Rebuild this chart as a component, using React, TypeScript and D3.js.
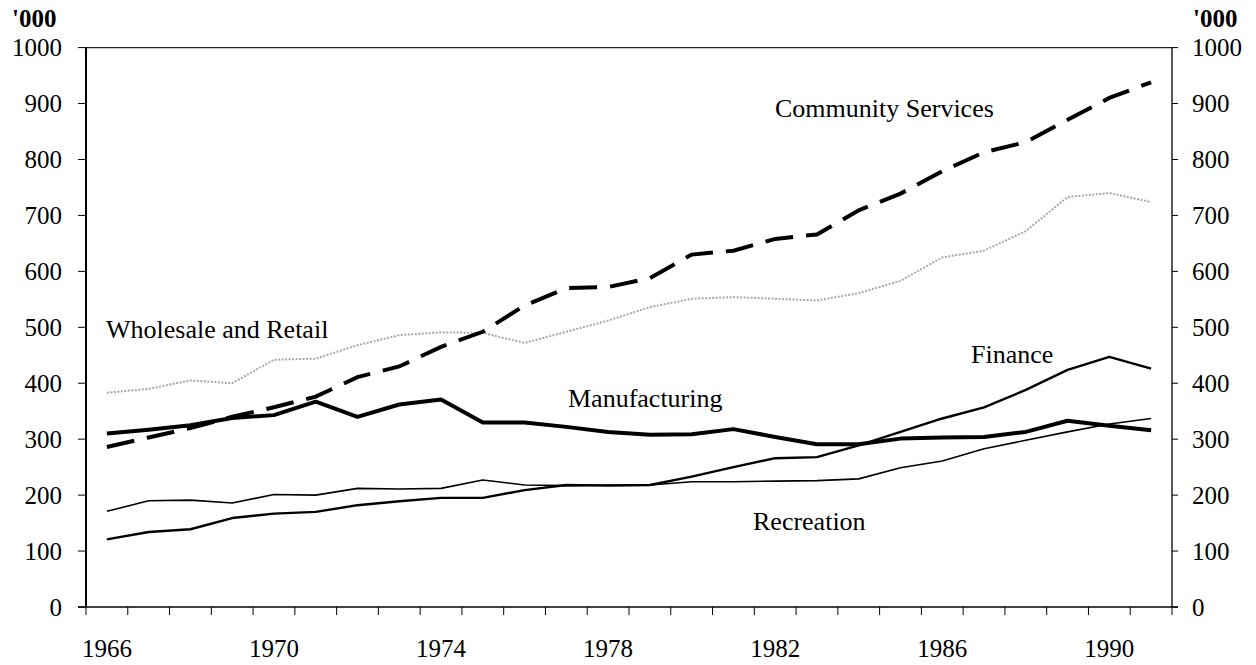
import React from "react";
import * as d3 from "d3";

// employment by industry, thousands
const years = d3.range(1966, 1992);
const xLabels = [1966, 1970, 1974, 1978, 1982, 1986, 1990];
const yTicks = [0, 100, 200, 300, 400, 500, 600, 700, 800, 900, 1000];

const communityServices = [286, 303, 320, 340, 357, 376, 411, 430, 465, 492, 539, 570, 572, 588, 630, 637, 658, 666, 709, 739, 779, 813, 831, 871, 910, 938];
const wholesaleRetail = [383, 390, 405, 400, 442, 444, 468, 486, 491, 490, 472, 492, 512, 536, 551, 554, 551, 548, 561, 583, 625, 637, 672, 733, 740, 724];
const manufacturing = [310, 317, 325, 338, 343, 367, 340, 362, 371, 330, 330, 322, 313, 308, 309, 318, 304, 291, 291, 301, 303, 304, 313, 333, 324, 316];
const finance = [121, 134, 139, 159, 167, 170, 182, 189, 195, 195, 209, 218, 217, 218, 233, 250, 266, 268, 289, 313, 337, 357, 388, 424, 447, 426];
const recreation = [171, 190, 191, 186, 201, 200, 212, 211, 212, 227, 218, 217, 218, 218, 224, 224, 225, 226, 229, 249, 261, 283, 298, 313, 327, 337];

const width = 1256;
const height = 665;
const margin = { top: 47.6, right: 84, bottom: 58, left: 86 };
const font = "'Liberation Serif', 'Times New Roman', serif";

function App() {
  const x = d3
    .scaleBand<number>()
    .domain(years)
    .range([margin.left, width - margin.right])
    .padding(0);
  const y = d3
    .scaleLinear()
    .domain([0, 1000])
    .range([height - margin.bottom, margin.top]);

  const cx = (yr: number) => (x(yr) as number) + x.bandwidth() / 2;
  const line = d3
    .line<number>()
    .x((d, i) => cx(years[i]))
    .y((d) => y(d));

  const x0 = margin.left;
  const x1 = width - margin.right;
  const y0 = y(0);
  const yTop = y(1000);
  const boundaries = [...years.map((yr) => x(yr) as number), x1];

  return (
    <div style={{ position: "absolute", left: 0, top: 0 }}>
      <svg width={width} height={height} style={{ display: "block", background: "#fff" }}>
        {/* frame */}
        <line x1={x0} x2={x1} y1={yTop} y2={yTop} stroke="#222" strokeWidth={1.2} />
        <line x1={x1} x2={x1} y1={yTop} y2={y0} stroke="#222" strokeWidth={1.5} />
        <line x1={x0} x2={x0} y1={yTop} y2={y0} stroke="#000" strokeWidth={2} />
        <line x1={x0 - 8} x2={x1 + 6} y1={y0} y2={y0} stroke="#000" strokeWidth={1.5} />

        {/* y ticks, both sides */}
        {yTicks.map((t) => (
          <g key={t}>
            <line x1={x0 - 8} x2={x0} y1={y(t)} y2={y(t)} stroke="#000" strokeWidth={1} />
            <line x1={x1} x2={x1 + 6} y1={y(t)} y2={y(t)} stroke="#000" strokeWidth={1} />
            <text x={62} y={y(t)} dy="0.35em" textAnchor="end" fontFamily={font} fontSize={25}>
              {t}
            </text>
            <text x={1192} y={y(t)} dy="0.35em" textAnchor="start" fontFamily={font} fontSize={25}>
              {t}
            </text>
          </g>
        ))}
        <text x={12} y={27} fontFamily={font} fontSize={25} fontWeight="bold">'000</text>
        <text x={1193} y={27} fontFamily={font} fontSize={25} fontWeight="bold">'000</text>

        {/* x ticks at category boundaries */}
        {boundaries.map((bx, i) => (
          <line key={i} x1={bx} x2={bx} y1={y0} y2={y0 + 8} stroke="#000" strokeWidth={1} />
        ))}
        {xLabels.map((yr) => (
          <text key={yr} x={cx(yr)} y={657} textAnchor="middle" fontFamily={font} fontSize={25}>
            {yr}
          </text>
        ))}

        {/* series */}
        <path d={line(wholesaleRetail) ?? ""} fill="none" stroke="#a8a8a8" strokeWidth={2} strokeDasharray="2 1.5" />
        <path d={line(recreation) ?? ""} fill="none" stroke="#000" strokeWidth={1.6} strokeLinejoin="round" />
        <path d={line(finance) ?? ""} fill="none" stroke="#000" strokeWidth={2.4} strokeLinejoin="round" />
        <path d={line(manufacturing) ?? ""} fill="none" stroke="#000" strokeWidth={4} strokeLinejoin="round" />
        <path d={line(communityServices) ?? ""} fill="none" stroke="#000" strokeWidth={4} strokeDasharray="28 13" />

        {/* series labels */}
        <text x={775} y={117} fontFamily={font} fontSize={26}>Community Services</text>
        <text x={106} y={338} fontFamily={font} fontSize={26}>Wholesale and Retail</text>
        <text x={568} y={407} fontFamily={font} fontSize={26}>Manufacturing</text>
        <text x={971} y={363} fontFamily={font} fontSize={26}>Finance</text>
        <text x={753} y={530} fontFamily={font} fontSize={26}>Recreation</text>
      </svg>
    </div>
  );
}

export default App;
